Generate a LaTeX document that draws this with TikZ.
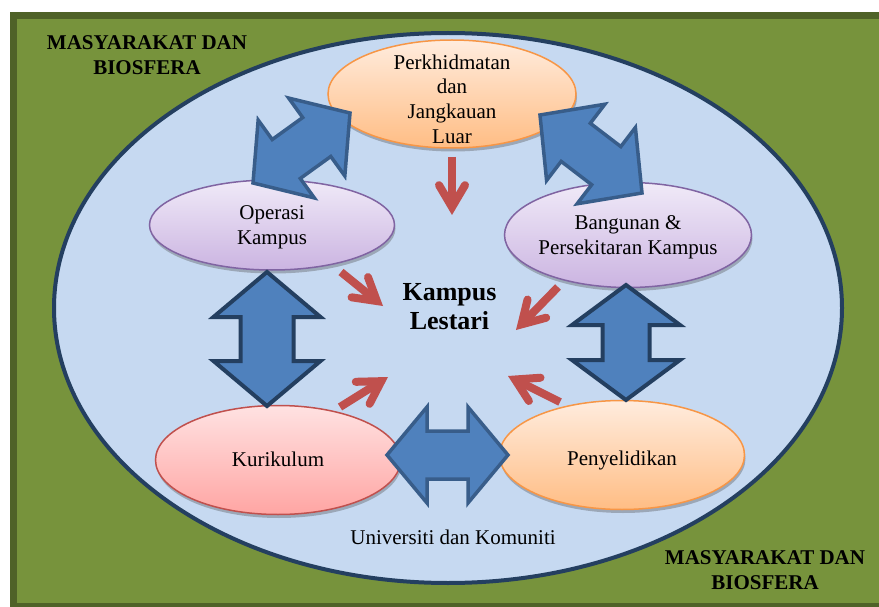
\documentclass[tikz,border=0pt]{standalone}
\usepackage{fontspec}
\setmainfont{Liberation Serif}
\usetikzlibrary{shapes.geometric,shadows,arrows.meta}
\definecolor{bggreen}{HTML}{77933C}
\definecolor{bgborder}{HTML}{4F6228}
\definecolor{lightblue}{HTML}{C6D9F1}
\definecolor{navy}{HTML}{243F60}
\definecolor{blockfill}{HTML}{4F81BD}
\definecolor{blockline}{HTML}{385D8A}
\definecolor{redarrow}{HTML}{C0504D}
\definecolor{orangetop}{HTML}{FFECDE}
\definecolor{orangebot}{HTML}{FFBD84}
\definecolor{orangeline}{HTML}{F79646}
\definecolor{purpletop}{HTML}{F0EAF8}
\definecolor{purplebot}{HTML}{CBB4E1}
\definecolor{purpleline}{HTML}{8064A2}
\definecolor{pinktop}{HTML}{FFE2E2}
\definecolor{pinkbot}{HTML}{FFA5A3}
\definecolor{pinkline}{HTML}{C0504D}
\tikzset{
  bubble/.style={ellipse, inner sep=0pt, line width=1.5pt,
    drop shadow={shadow xshift=1pt, shadow yshift=-3.5pt, opacity=0.35, fill=black!70}},
  orangeb/.style={bubble, draw=orangeline, top color=orangetop, bottom color=orangebot},
  purpleb/.style={bubble, draw=purpleline, top color=purpletop, bottom color=purplebot},
  pinkb/.style={bubble, draw=pinkline, top color=pinktop, bottom color=pinkbot},
  txt/.style={font=\fontsize{21}{24.7}\selectfont, align=center, inner sep=0pt},
  bigtxt/.style={font=\bfseries\fontsize{26}{29}\selectfont, align=center, inner sep=0pt},
  outertxt/.style={font=\bfseries\fontsize{21}{25}\selectfont, align=center, inner sep=0pt},
  blockdiag/.style={fill=blockfill, draw=blockline, line width=3.5pt},
  blockvert/.style={fill=blockfill, draw=navy, line width=4pt},
  redarr/.style={draw=redarrow, line width=8pt,
    -{Straight Barb[length=22pt, width=26pt, line join=miter, line cap=round]}}
}
% #1 style, #2 cx, #3 cy, #4 angle, #5 half length, #6 head length, #7 head half width, #8 shaft half width
\newcommand\blockarrow[8]{%
  \begin{scope}[shift={(#2,#3)}, rotate=#4]
    \draw[#1] (-#5,0) -- ({-#5+#6},#7) -- ({-#5+#6},#8) -- ({#5-#6},#8) -- ({#5-#6},#7)
      -- (#5,0) -- ({#5-#6},-#7) -- ({#5-#6},-#8) -- ({-#5+#6},-#8) -- ({-#5+#6},-#7) -- cycle;
  \end{scope}}
\begin{document}
\begin{tikzpicture}[x=1pt,y=-1pt]
\useasboundingbox (0,0) rectangle (879,607);
\fill[white] (0,0) rectangle (879,607);
\begin{scope}
\clip (0,0) rectangle (879,607);
\draw[fill=bggreen, draw=bgborder, line width=7pt] (13.5,15.5) rectangle (883,606);
\end{scope}

% large ellipse
\node[ellipse, draw=navy, line width=4pt, fill=lightblue, inner sep=0pt,
  minimum width=788pt, minimum height=550pt] (campus) at (448,308) {};

% small ellipses
\node[orangeb, minimum width=248pt, minimum height=108pt] (perk) at (452,94) {};
\node[purpleb, minimum width=245pt, minimum height=90pt] (oper) at (272,225) {};
\node[purpleb, minimum width=247pt, minimum height=105pt] (bang) at (628,235) {};
\node[pinkb, minimum width=245pt, minimum height=109pt] (kuri) at (278,460) {};
\node[orangeb, minimum width=245pt, minimum height=109pt] (peny) at (622,455) {};

% block double arrows
\blockarrow{blockdiag}{301.5}{148}{35.8}{59.8}{41}{48}{24}
\blockarrow{blockdiag}{591}{154}{-37.4}{64.2}{45}{48}{24}
\blockarrow{blockvert}{267}{339}{90}{67}{45}{53.5}{26.5}
\blockarrow{blockvert}{626}{342.5}{90}{57.5}{40}{54}{23.5}
\blockarrow{blockdiag}{447.5}{455}{0}{60.5}{40}{48}{24}

% red arrows toward centre
\coordinate (r1s) at (452,157); \coordinate (r1e) at (452,215);
\coordinate (r2s) at (341,272); \coordinate (r2e) at (383,306);
\coordinate (r3s) at (558,287); \coordinate (r3e) at (516,330);
\coordinate (r4s) at (340,407); \coordinate (r4e) at (388,377);
\coordinate (r5s) at (560,402); \coordinate (r5e) at (508,376);
\draw[redarr] (r1s) -- (r1e);
\draw[redarr] (r2s) -- (r2e);
\draw[redarr] (r3s) -- (r3e);
\draw[redarr] (r4s) -- (r4e);
\draw[redarr] (r5s) -- (r5e);

% texts
\node[txt] (tperk) at (452,99) {Perkhidmatan\\dan\\Jangkauan\\Luar};
\node[txt] (toper) at (272,227) {Operasi\\Kampus};
\node[txt] (tbang) at (628,237) {Bangunan \&\\Persekitaran Kampus};
\node[txt] (tkuri) at (278,459) {Kurikulum};
\node[txt] (tpeny) at (622,460) {Penyelidikan};
\node[txt] (tuni) at (453,537.5) {Universiti dan Komuniti};
\node[bigtxt] (tcentre) at (449.5,306.5) {Kampus\\Lestari};
\node[outertxt] (tmb1) at (147,55) {MASYARAKAT DAN\\BIOSFERA};
\node[outertxt] (tmb2) at (765,570) {MASYARAKAT DAN\\BIOSFERA};
\end{tikzpicture}
\end{document}
